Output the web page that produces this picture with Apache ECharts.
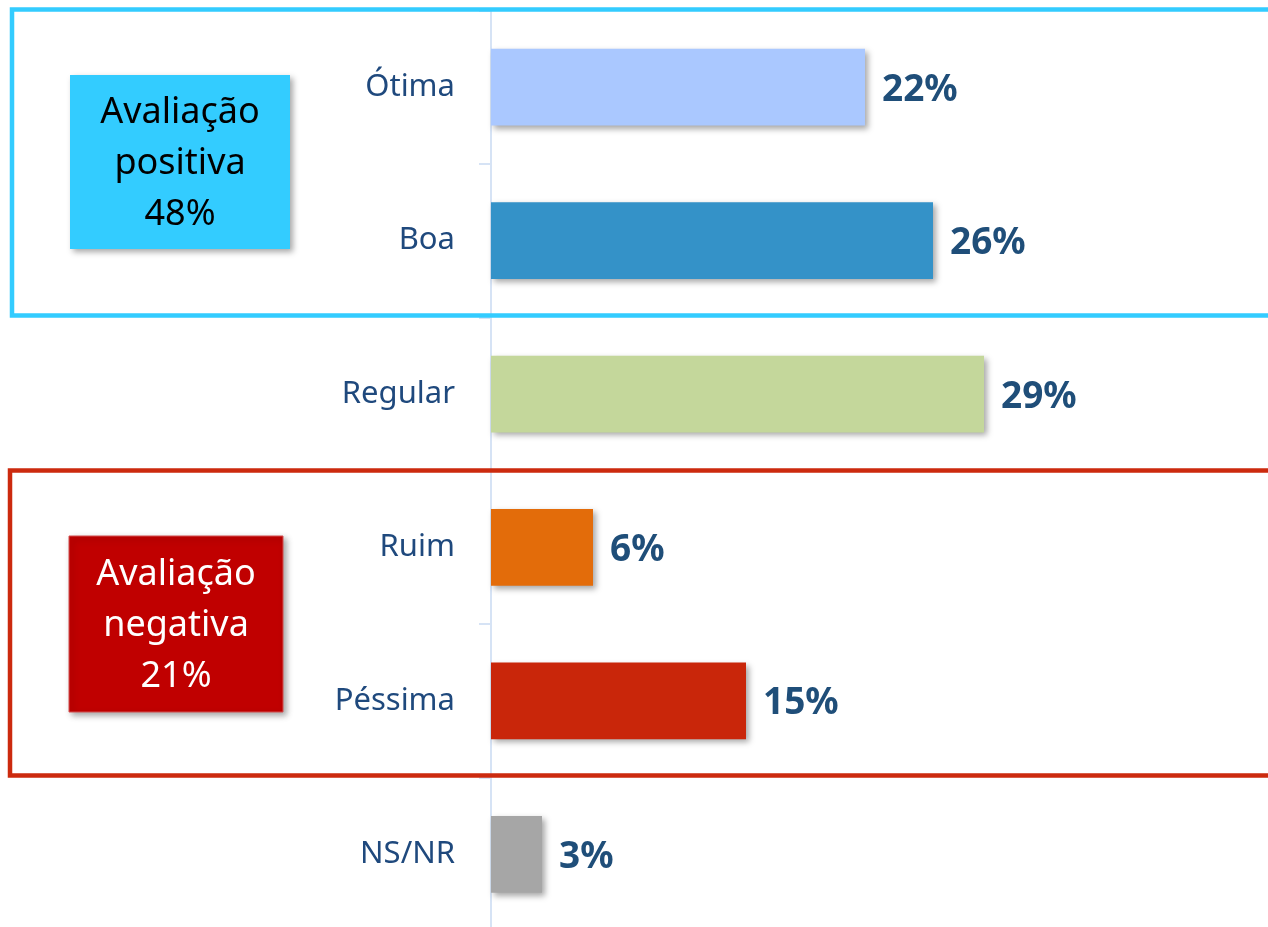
<!DOCTYPE html>
<html>
<head>
<meta charset="utf-8">
<script src="https://cdn.jsdelivr.net/npm/echarts@6/dist/echarts.min.js"></script>
<style>
  html, body { margin: 0; padding: 0; background: #fff; }
  #chart { width: 1268px; height: 927px; }
</style>
</head>
<body>
<div id="chart"></div>
<script>
const categories = ['Ótima', 'Boa', 'Regular', 'Ruim', 'Péssima', 'NS/NR'];
const values = [22, 26, 29, 6, 15, 3];
const barColors = ['#AAC8FF', '#3492C8', '#C4D79B', '#E36C0A', '#C9260A', '#A6A6A6'];
const groupNames = ['Avaliação\npositiva', 'Avaliação\nnegativa'];
const groupTotals = [48, 21];

const FONT = "'Noto Sans', sans-serif";
const chart = echarts.init(document.getElementById('chart'));

const shadow = { shadowBlur: 6, shadowOffsetX: 3, shadowOffsetY: 3, shadowColor: 'rgba(0,0,0,0.35)' };

const option = {
  backgroundColor: '#fff',
  animation: false,
  grid: { left: 491, top: 10.5, width: 680, height: 920.5, containLabel: false, outerBoundsMode: 'none' },
  xAxis: { type: 'value', min: 0, max: 40, show: false },
  yAxis: {
    type: 'category',
    inverse: true,
    data: categories,
    axisLine: { show: true, lineStyle: { color: '#D6E3F5', width: 2 } },
    axisTick: { show: true, length: 12, lineStyle: { color: '#D6E3F5', width: 2 } },
    axisLabel: { margin: 36, fontSize: 31, color: '#1F497D', fontFamily: FONT, padding: [3, 0, 0, 0] }
  },
  series: [{
    type: 'bar',
    data: values.map((v, i) => ({ value: v, itemStyle: { color: barColors[i] } })),
    barCategoryGap: '50%',
    itemStyle: shadow,
    label: {
      show: true, position: 'right', distance: 17, offset: [0, 3],
      formatter: p => p.value + '%',
      fontSize: 37, fontWeight: 'bold', color: '#1F4E79', fontFamily: FONT
    }
  }],
  graphic: [
    { type: 'rect', z: 10, shape: { x: 12, y: 9.5, width: 1300, height: 306 },
      style: { fill: 'none', stroke: '#33CCFF', lineWidth: 4.5 } },
    { type: 'rect', z: 10, shape: { x: 10, y: 470.5, width: 1300, height: 305 },
      style: { fill: 'none', stroke: '#CC2A0E', lineWidth: 4.5 } },
    { type: 'rect', z: 11, shape: { x: 70, y: 75, width: 220, height: 174 },
      style: Object.assign({ fill: '#33CCFF' }, shadow) },
    { type: 'text', z: 12, x: 180, y: 164,
      style: { text: groupNames[0] + '\n' + groupTotals[0] + '%', fill: '#000', font: '36px ' + FONT,
        lineHeight: 51, align: 'center', verticalAlign: 'middle' } },
    { type: 'rect', z: 11, shape: { x: 69, y: 536, width: 214, height: 176 },
      style: Object.assign({ fill: '#C00000', stroke: '#D45050', lineWidth: 1 }, shadow) },
    { type: 'text', z: 12, x: 176, y: 626,
      style: { text: groupNames[1] + '\n' + groupTotals[1] + '%', fill: '#fff', font: '36px ' + FONT,
        lineHeight: 51, align: 'center', verticalAlign: 'middle' } }
  ]
};
chart.setOption(option);
</script>
</body>
</html>
